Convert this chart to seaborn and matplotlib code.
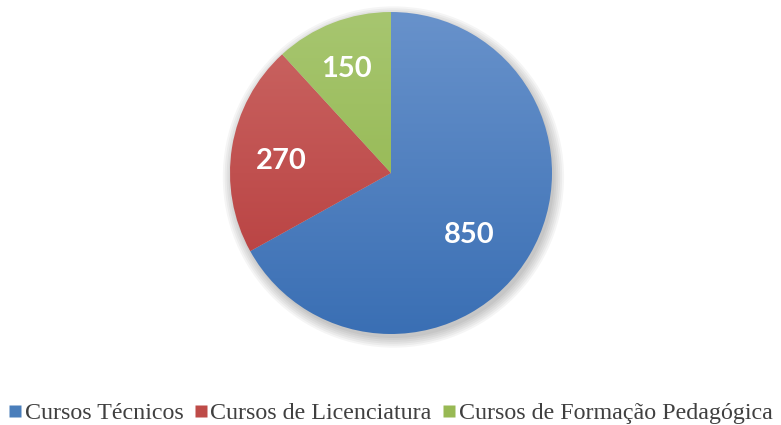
import numpy as np
import matplotlib
matplotlib.use("Agg")
import matplotlib.pyplot as plt
import matplotlib.colors as mcolors
from matplotlib.patches import Circle
from matplotlib.lines import Line2D
import seaborn as sns

categories = ["Cursos Técnicos", "Cursos de Licenciatura", "Cursos de Formação Pedagógica"]
values = [850, 270, 150]

# top / bottom colours of each slice (Excel style gradient)
top_colors = ["#6892CB", "#CB6764", "#A7C670"]
bottom_colors = ["#3A6FB4", "#B5393A", "#8BB142"]
legend_colors = ["#4A7EBB", "#BE4B48", "#98B954"]
label_radius = [0.61, 0.69, 0.72]
label_turn = [-6.5, 1.5, 1.5]  # degrees

sns.set_style("white")

fig = plt.figure(figsize=(7.81, 4.25), dpi=100)
ax = fig.add_axes([230 / 781, (425 - 334) / 425, 322 / 781, 322 / 425])
ax.set_xlim(-1, 1)
ax.set_ylim(-1, 1)
ax.set_aspect("equal")
ax.axis("off")

# soft shadow
for k in range(6):
    ax.add_patch(Circle((0.015, -0.025), 1.0 + 0.012 * k, color="black",
                        alpha=0.04, lw=0, zorder=0, clip_on=False))

wedges, _ = ax.pie(values, startangle=90, counterclock=False, radius=1.0,
                   colors=legend_colors, wedgeprops=dict(linewidth=0))

for w, c0, c1 in zip(wedges, top_colors, bottom_colors):
    w.set_facecolor("none")
    cmap = mcolors.LinearSegmentedColormap.from_list("g", [c1, c0])
    grad = np.linspace(0, 1, 256).reshape(-1, 1)
    im = ax.imshow(grad, cmap=cmap, extent=(-1, 1, -1, 1), origin="lower",
                   aspect="auto", zorder=1)
    im.set_clip_path(w)

ax.set_xlim(-1, 1)
ax.set_ylim(-1, 1)

for w, v, r, t in zip(wedges, values, label_radius, label_turn):
    ang = np.deg2rad((w.theta1 + w.theta2) / 2 + t)
    ax.text(r * np.cos(ang), r * np.sin(ang), str(v), ha="center",
            va="center_baseline", color="white", fontsize=21,
            fontweight="bold", family="Lato", zorder=3)

handles = [Line2D([], [], marker="s", linestyle="none", markersize=8,
                  markerfacecolor=c, markeredgecolor="none") for c in legend_colors]
fig.legend(handles, categories, loc="center", bbox_to_anchor=(0.5, 12 / 425),
           ncol=3, frameon=False, handlelength=0.55, handletextpad=0.12,
           columnspacing=0.45, prop=dict(family="Liberation Serif", size=17.3),
           labelcolor="#404040")

fig.savefig("out.png", dpi=100)
